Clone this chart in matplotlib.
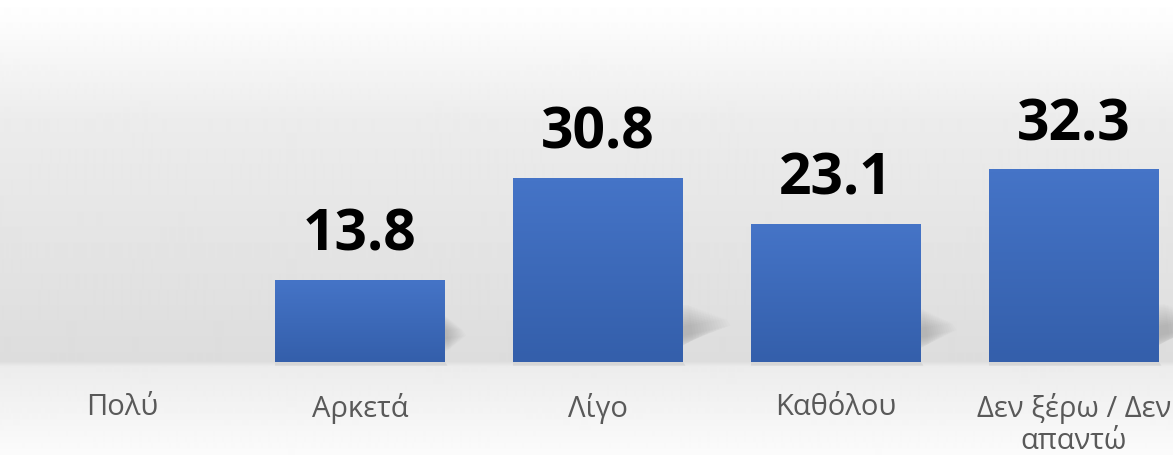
import numpy as np
import matplotlib.pyplot as plt
from matplotlib.colors import LinearSegmentedColormap
from matplotlib.patches import Polygon

# data
categories = ['Πολύ', 'Αρκετά', 'Λίγο', 'Καθόλου', 'Δεν ξέρω / Δεν\nαπαντώ']
values = [0.0, 13.8, 30.8, 23.1, 32.3]

W, H = 1173, 455
base_px = 362          # baseline of the bars in pixels from the top
px_per_unit = 5.974    # bar height scale
slot_px = 238
first_px = 122

fig = plt.figure(figsize=(W / 100, H / 100), dpi=100)

# background gradient over the whole figure
bg = fig.add_axes([0, 0, 1, 1], zorder=-10)
rows = np.arange(H)
shade = np.interp(rows, [0, 20, 120, 361, 366, 455],
                  [1.0, 0.99, 0.925, 0.865, 0.925, 0.985])
bg.imshow(np.repeat(shade[:, None], 2, axis=1), cmap='gray', vmin=0, vmax=1,
          aspect='auto', extent=(0, 1, 0, 1), interpolation='bilinear')
bg.set_axis_off()

ax = fig.add_axes([0, (H - base_px) / H, 1, base_px / H])
ax.patch.set_alpha(0)
x = np.arange(len(categories))
ax.set_xlim((0 - first_px) / slot_px, (W - first_px) / slot_px)
ax.set_ylim(0, base_px / px_per_unit)

bar_w = 170 / slot_px
bars = ax.bar(x, values, width=bar_w, color='#3f6cbf', zorder=3)

grad = LinearSegmentedColormap.from_list('bar', ['#345fab', '#4574c7'])
for b, v in zip(bars, values):
    if v <= 0:
        continue
    x0, x1 = b.get_x(), b.get_x() + b.get_width()
    im = ax.imshow(np.linspace(1, 0, 50)[:, None], cmap=grad, aspect='auto',
                   extent=(x0, x1, 0, v), zorder=4, interpolation='bilinear')
    im.set_clip_path(b)

    # soft drop shadow to the lower right
    L = 0.26 * v * px_per_unit / slot_px
    rise = 0.1 * v
    for k in range(14):
        g = k * 0.35
        xr = x1 + L * (1.0 - 0.06 * k)
        pts = [(x1 - 0.2, 2.6 - g), (xr, 3.0 + rise - g * 0.5),
               (xr - 0.02, 4.2 + rise + g * 0.5), (x1 - 0.2, 4.6 + g)]
        ax.add_patch(Polygon(pts, closed=True, color='black', alpha=0.013,
                             lw=0, zorder=2))
    # thin shade below the bar
    ax.add_patch(Polygon([(x0, 0), (x1, 0), (x1 + 0.01, -0.6), (x0, -0.6)],
                         closed=True, color='#d6d6d6', lw=0, zorder=2,
                         clip_on=False))

for xi, v in zip(x, values):
    if v <= 0:
        continue
    ax.annotate(f'{v:.1f}', (xi, v), xytext=(0, 20.9), textcoords='offset points',
                ha='center', va='baseline', fontsize=41, fontweight='bold',
                family='Open Sans', color='black', zorder=5)

ax.set_xticks(x)
ax.set_xticklabels(categories, fontsize=21, color='#595959', family='Open Sans',
                   linespacing=1.15)
ax.tick_params(axis='x', length=0, pad=22)
ax.set_yticks([])
for s in ax.spines.values():
    s.set_visible(False)

fig.savefig('out.png', dpi=100)
